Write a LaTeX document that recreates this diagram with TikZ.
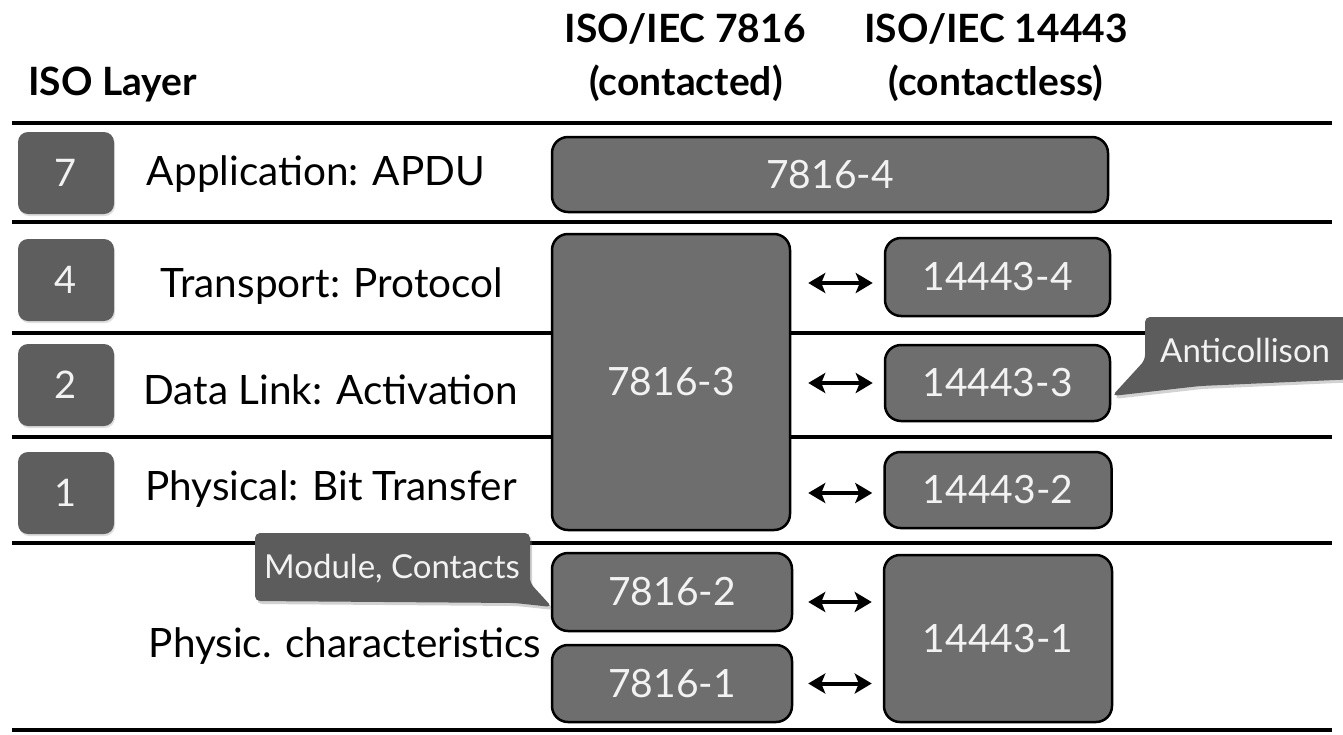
\documentclass[tikz,border=0pt]{standalone}
\usepackage{fontspec}
\setmainfont{Lato}
\usetikzlibrary{shadows,arrows.meta,calc}
\definecolor{boxgray}{HTML}{6E6E6E}
\definecolor{numgray}{HTML}{5E5E5E}
\definecolor{callgray}{HTML}{5C5C5C}
\definecolor{lighttext}{HTML}{F2F2F2}
\begin{document}
\begin{tikzpicture}[x=1pt,y=-1pt,
  rule/.style={line width=4pt},
  hdr/.style={font=\fontsize{39}{42}\selectfont\bfseries, anchor=base, inner sep=0pt},
  rowlabel/.style={font=\fontsize{40.5}{42}\selectfont, anchor=base, inner sep=0pt},
  numbox/.style={fill=numgray, rounded corners=10pt, text=lighttext,
    minimum width=96pt, minimum height=82pt, inner sep=0pt,
    font=\fontsize{38}{40}\selectfont,
    drop shadow={opacity=0.25, shadow xshift=1pt, shadow yshift=-2pt}},
  stdbox/.style={draw=black, line width=2.5pt, fill=boxgray, rounded corners=16pt,
    text=lighttext, inner sep=0pt, font=\fontsize{39}{41}\selectfont},
  biarrow/.style={line width=4pt, {Stealth[length=17pt,width=20pt,inset=4pt]}-{Stealth[length=17pt,width=20pt,inset=4pt]}},
  callout/.style={fill=callgray, rounded corners=5pt,
    drop shadow={opacity=0.35, shadow xshift=2pt, shadow yshift=-3pt}},
  calltext/.style={font=\fontsize{33}{35}\selectfont, text=lighttext, anchor=base west, inner sep=0pt}
]
\useasboundingbox (0,0) rectangle (1343,734);
\fill[white] (0,0) rectangle (1343,734);

% header
\node[hdr, anchor=base west] (hlayer) at (28,95) {ISO Layer};
\node[hdr] (h7816) at (685,42) {ISO/IEC 7816};
\node[hdr] (h7816b) at (686,95) {(contacted)};
\node[hdr] (h14443) at (996,42) {ISO/IEC 14443};
\node[hdr] (h14443b) at (996,95) {(contactless)};

% horizontal rules between layers
\foreach \yy in {123,222,333,437,543,730}
  \draw[rule] (12,\yy) -- (1332,\yy);

% layer numbers
\node[numbox] (n7) at (66,173) {7};
\node[numbox] (n4) at (66,280) {4};
\node[numbox] (n2) at (66,385) {2};
\node[numbox] (n1) at (66,493) {1};

% layer names
\node[rowlabel] (l7) at (316,185) {Application: APDU};
\node[rowlabel] (l4) at (332,297) {Transport: Protocol};
\node[rowlabel] (l2) at (331,404) {Data Link: Activation};
\node[rowlabel] (l1) at (331,500) {Physical: Bit Transfer};
\node[rowlabel] (lp) at (345,657) {Physic. characteristics};

% standard parts
\node[stdbox, minimum width=556pt, minimum height=75pt] (b74) at (830,174.5) {7816-4};
\node[stdbox, minimum width=238pt, minimum height=296pt] (b73) at (671,382) {7816-3};
\node[stdbox, minimum width=240pt, minimum height=78pt] (b72) at (672,592) {7816-2};
\node[stdbox, minimum width=240pt, minimum height=77pt] (b71) at (672,683.5) {7816-1};
\node[stdbox, minimum width=225pt, minimum height=78pt] (c4) at (997.5,277) {14443-4};
\node[stdbox, minimum width=225pt, minimum height=76pt] (c3) at (997.5,383) {14443-3};
\node[stdbox, minimum width=227pt, minimum height=76pt] (c2) at (998,490) {14443-2};
\node[stdbox, minimum width=228pt, minimum height=167pt] (c1) at (998,638.5) {14443-1};

% correspondences
\draw[biarrow, shorten <=17pt, shorten >=11pt] ([yshift=-6pt]b73.east |- c4.west) -- ([yshift=-6pt]c4.west);
\draw[biarrow, shorten <=17pt, shorten >=11pt] (b73.east |- c3.west) -- (c3.west);
\draw[biarrow, shorten <=17pt, shorten >=11pt] ([yshift=-3pt]b73.east |- c2.west) -- ([yshift=-3pt]c2.west);
\coordinate (a2) at ([yshift=-10pt]b72.east);
\draw[biarrow, shorten <=15pt, shorten >=11pt] (a2) -- (c1.west |- a2);
\draw[biarrow, shorten <=15pt, shorten >=11pt] (b71.east) -- (c1.west |- b71.east);

% callouts
\fill[callout] (1145,317) -- (1380,317) -- (1380,378) -- (1200,386) -- (1112,396) -- (1145,360) -- cycle;
\node[calltext] (anti) at (1160,362) {Anticollison};
\fill[callout] (255,533) -- (530,533) -- (530,583) -- (552,607) -- (515,603) -- (255,601) -- cycle;
\node[calltext] (modc) at (264,578) {Module, Contacts};
\end{tikzpicture}
\end{document}
